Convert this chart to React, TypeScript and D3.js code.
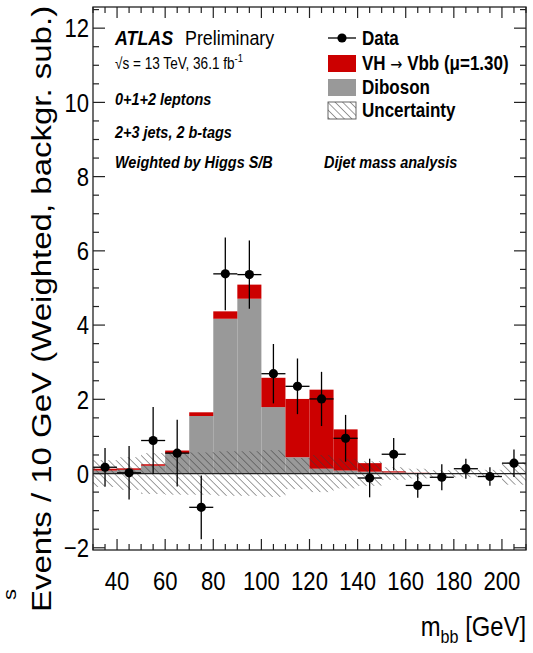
import React from "react";
import * as d3 from "d3";

// ---- data ----
const massCenters = [35, 45, 55, 65, 75, 85, 95, 105, 115, 125, 135, 145, 155, 165, 175, 185, 195, 205];
const binHalfWidth = 5;
const dataValues = [0.17, 0.02, 0.89, 0.55, -0.91, 5.38, 5.36, 2.69, 2.35, 2.01, 0.95, -0.12, 0.52, -0.32, -0.1, 0.13, -0.08, 0.28];
const dataErrors = [0.52, 0.72, 0.9, 0.9, 0.86, 0.98, 0.92, 0.8, 0.75, 0.73, 0.63, 0.52, 0.44, 0.33, 0.35, 0.27, 0.25, 0.37];
const dibosonValues = [0.08, 0.1, 0.21, 0.55, 1.55, 4.17, 4.71, 1.79, 0.44, 0.13, 0.08, 0.05, 0.03, 0.01, 0.01, 0.01, 0.0, 0.0];
const vhValues = [0.05, 0.04, 0.04, 0.07, 0.1, 0.2, 0.38, 0.79, 1.57, 2.13, 1.11, 0.23, 0.03, 0.01, 0.0, 0.0, 0.01, 0.01];
const uncertainty = [0.36, 0.44, 0.55, 0.57, 0.57, 0.6, 0.6, 0.63, 0.42, 0.5, 0.4, 0.33, 0.17, 0.13, 0.09, 0.1, 0.1, 0.3];
const xTickLabels = [40, 60, 80, 100, 120, 140, 160, 180, 200];
const yTickLabels = [-2, 0, 2, 4, 6, 8, 10, 12];
const xDomain = [30, 210];
const yDomain = [-2.06, 12.57];

const FONT = "'Liberation Sans', Arial, Helvetica, sans-serif";
const C = 0.85; // horizontal text compression of the reference

function T({ x, y, size, children, anchor = "start", weight = "normal", italic = false, rotate = 0 }: any) {
  const tr = rotate
    ? `translate(${x},${y}) rotate(${rotate}) scale(1,${C})`
    : `translate(${x},${y}) scale(${C},1)`;
  return (
    <text
      transform={tr}
      fontFamily={FONT}
      fontSize={size}
      fontWeight={weight}
      fontStyle={italic ? "italic" : "normal"}
      textAnchor={anchor}
      fill="#000"
    >
      {children}
    </text>
  );
}

export default function App() {
  const W = 533, H = 653;
  const L = 93, R = 526, TOP = 7, B = 550;
  const x = d3.scaleLinear().domain(xDomain).range([L, R]);
  const y = d3.scaleLinear().domain(yDomain).range([B, TOP]);

  const xMinor = d3.range(xDomain[0], xDomain[1] + 0.01, 5).filter((v) => !xTickLabels.includes(v));
  const yMinor = d3.range(-2, yDomain[1], 0.5).filter((v) => !yTickLabels.includes(v));

  const frame = "#222";
  const red = "#cc0000";
  const gray = "#999999";

  return (
    <div style={{ position: "absolute", left: 0, top: 0 }}>
      <svg width={W} height={H} style={{ display: "block", background: "#fff" }}>
        <defs>
          <pattern id="hatch" patternUnits="userSpaceOnUse" width={5.3} height={5.3} patternTransform="rotate(-45)">
            <line x1={0} y1={0} x2={0} y2={5.3} stroke="#3a3a3a" strokeWidth={1} />
          </pattern>
          <clipPath id="plotclip">
            <rect x={L} y={TOP} width={R - L} height={B - TOP} />
          </clipPath>
        </defs>

        <g clipPath="url(#plotclip)">
          {/* Diboson */}
          {massCenters.map((m, i) => (
            <rect key={"d" + i} x={x(m - binHalfWidth)} width={x(m + binHalfWidth) - x(m - binHalfWidth)}
              y={y(dibosonValues[i])} height={Math.max(0, y(0) - y(dibosonValues[i]))} fill={gray} />
          ))}
          {/* VH */}
          {massCenters.map((m, i) => {
            const lo = dibosonValues[i], hi = dibosonValues[i] + vhValues[i];
            return (
              <rect key={"v" + i} x={x(m - binHalfWidth)} width={x(m + binHalfWidth) - x(m - binHalfWidth)}
                y={y(hi)} height={Math.max(0.8, y(lo) - y(hi))} fill={red} />
            );
          })}
          {/* uncertainty band */}
          {massCenters.map((m, i) => (
            <rect key={"u" + i} x={x(m - binHalfWidth)} width={x(m + binHalfWidth) - x(m - binHalfWidth)}
              y={y(uncertainty[i])} height={y(-uncertainty[i]) - y(uncertainty[i])} fill="url(#hatch)" />
          ))}
          {/* zero line */}
          <line x1={L} x2={R} y1={y(0)} y2={y(0)} stroke="#222" strokeWidth={1.3} />
          {/* data */}
          {massCenters.map((m, i) => (
            <g key={"p" + i} stroke="#000" strokeWidth={1.3}>
              <line x1={x(m)} x2={x(m)} y1={y(dataValues[i] - dataErrors[i])} y2={y(dataValues[i] + dataErrors[i])} />
              <line x1={x(m - binHalfWidth)} x2={x(m + binHalfWidth)} y1={y(dataValues[i])} y2={y(dataValues[i])} />
              <circle cx={x(m)} cy={y(dataValues[i])} r={4.6} fill="#000" stroke="none" />
            </g>
          ))}
        </g>

        {/* frame */}
        <rect x={L} y={TOP} width={R - L} height={B - TOP} fill="none" stroke={frame} strokeWidth={1.3} />
        {/* x ticks */}
        {xTickLabels.map((v) => (
          <g key={"xt" + v} stroke={frame} strokeWidth={1.2}>
            <line x1={x(v)} x2={x(v)} y1={B} y2={B - 11} />
            <line x1={x(v)} x2={x(v)} y1={TOP} y2={TOP + 11} />
          </g>
        ))}
        {xMinor.map((v) => (
          <g key={"xm" + v} stroke={frame} strokeWidth={1.2}>
            <line x1={x(v)} x2={x(v)} y1={B} y2={B - 6} />
            <line x1={x(v)} x2={x(v)} y1={TOP} y2={TOP + 6} />
          </g>
        ))}
        {/* y ticks */}
        {yTickLabels.map((v) => (
          <g key={"yt" + v} stroke={frame} strokeWidth={1.2}>
            <line x1={L} x2={L + 12} y1={y(v)} y2={y(v)} />
            <line x1={R} x2={R - 12} y1={y(v)} y2={y(v)} />
          </g>
        ))}
        {yMinor.map((v) => (
          <g key={"ym" + v} stroke={frame} strokeWidth={1.2}>
            <line x1={L} x2={L + 6} y1={y(v)} y2={y(v)} />
            <line x1={R} x2={R - 6} y1={y(v)} y2={y(v)} />
          </g>
        ))}

        {/* tick labels */}
        {xTickLabels.map((v) => (
          <T key={"xl" + v} x={x(v)} y={590} size={26} anchor="middle">{String(v)}</T>
        ))}
        {yTickLabels.map((v) => (
          <T key={"yl" + v} x={89} y={y(v) + 9.3} size={26} anchor="end">{v < 0 ? "\u2212" + Math.abs(v) : String(v)}</T>
        ))}

        {/* axis titles */}
        <T x={51} y={309} size={33} anchor="middle" rotate={-90}>Events / 10 GeV (Weighted, backgr. sub.)</T>
        <g transform={`translate(526,636) scale(${C},1)`}>
          <text fontFamily={FONT} fontSize={28} textAnchor="end" fill="#000">
            m<tspan fontSize={19} dy={7}>bb</tspan><tspan dy={-7}> [GeV]</tspan>
          </text>
        </g>

        {/* fragment at far left */}
        <T x={16} y={600} size={22} rotate={-90}>s</T>

        {/* labels top-left */}
        <T x={115} y={45} size={21} weight="bold" italic>ATLAS</T>
        <T x={185} y={45} size={21}>Preliminary</T>
        <g transform={`translate(115,69) scale(${C},1)`}>
          <text fontFamily={FONT} fontSize={16} fill="#000">
            √s = 13 TeV, 36.1 fb<tspan fontSize={11} dy={-7}>-1</tspan>
          </text>
        </g>
        <T x={115} y={105} size={17} weight="bold" italic>0+1+2 leptons</T>
        <T x={115} y={138} size={17} weight="bold" italic>2+3 jets, 2 b-tags</T>
        <T x={115} y={168} size={17} weight="bold" italic>Weighted by Higgs S/B</T>
        <T x={324} y={168} size={17} weight="bold" italic>Dijet mass analysis</T>

        {/* legend */}
        <g stroke="#000" strokeWidth={1.3}>
          <line x1={328} x2={356} y1={38} y2={38} />
          <circle cx={342} cy={38} r={4.6} fill="#000" stroke="none" />
        </g>
        <rect x={328} y={55} width={28} height={17} fill={red} />
        <rect x={328} y={79} width={28} height={17} fill={gray} />
        <rect x={328} y={102} width={28} height={17} fill="url(#hatch)" stroke="#555" strokeWidth={0.9} />
        <T x={362} y={45} size={20} weight="bold">Data</T>
        <T x={362} y={70} size={20} weight="bold">
          VH <tspan fontFamily="'DejaVu Sans', sans-serif" fontWeight="normal" fontSize={17}>→</tspan> Vbb (μ=1.30)
        </T>
        <T x={362} y={94} size={20} weight="bold">Diboson</T>
        <T x={362} y={117} size={20} weight="bold">Uncertainty</T>
      </svg>
    </div>
  );
}
